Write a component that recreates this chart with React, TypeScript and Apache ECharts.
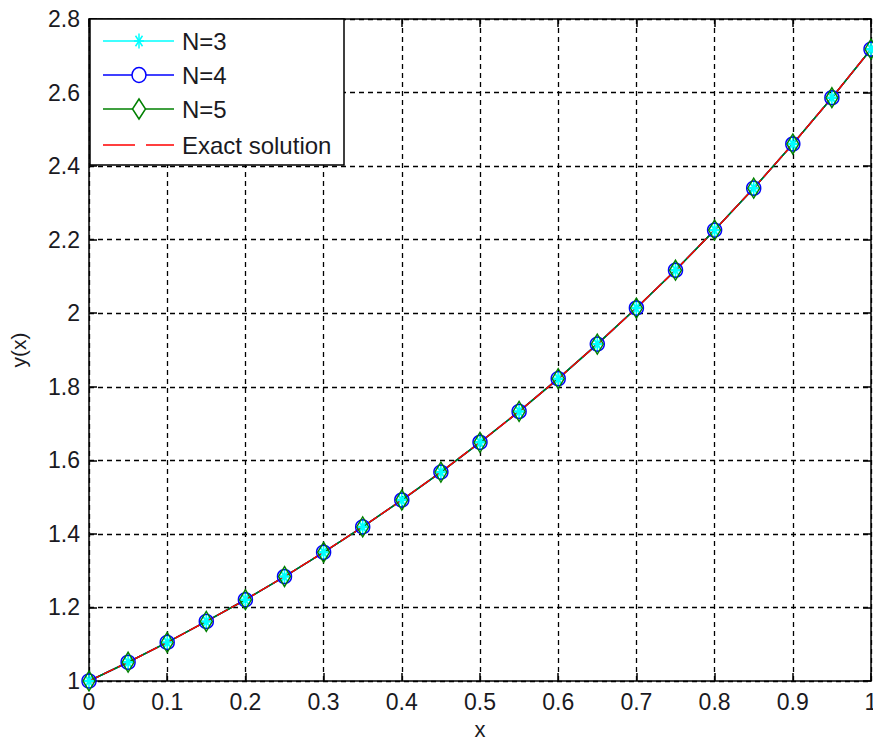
import React, { useEffect, useRef } from "react";
import * as echarts from "echarts";

const xValues = [0, 0.05, 0.1, 0.15, 0.2, 0.25, 0.3, 0.35, 0.4, 0.45, 0.5, 0.55, 0.6, 0.65, 0.7, 0.75, 0.8, 0.85, 0.9, 0.95, 1];
const n3Values = [1.0, 1.051, 1.105, 1.162, 1.221, 1.284, 1.35, 1.419, 1.492, 1.568, 1.649, 1.733, 1.822, 1.916, 2.014, 2.117, 2.226, 2.34, 2.46, 2.586, 2.718];
const n4Values = [1.0, 1.051, 1.105, 1.162, 1.221, 1.284, 1.35, 1.419, 1.492, 1.568, 1.649, 1.733, 1.822, 1.916, 2.014, 2.117, 2.226, 2.34, 2.46, 2.586, 2.718];
const n5Values = [1.0, 1.051, 1.105, 1.162, 1.221, 1.284, 1.35, 1.419, 1.492, 1.568, 1.649, 1.733, 1.822, 1.916, 2.014, 2.117, 2.226, 2.34, 2.46, 2.586, 2.718];
const exactValues = [1.0, 1.051, 1.105, 1.162, 1.221, 1.284, 1.35, 1.419, 1.492, 1.568, 1.649, 1.733, 1.822, 1.916, 2.014, 2.117, 2.226, 2.34, 2.46, 2.586, 2.718];
const seriesNames = ["N=3", "N=4", "N=5", "Exact solution"];
const seriesColors = ["#00ffff", "#0000ff", "#008000", "#ff0000"];

const FONT = "'Liberation Sans', Arial, sans-serif";
const TXT = "#1a1a22";
const ASTERISK = "path://M5,0L5,10M0,5L10,5M1.5,1.5L8.5,8.5M1.5,8.5L8.5,1.5";

const pairs = (ys: number[]) => xValues.map((x, i) => [x, ys[i]]);

function legendGraphics() {
  const boxL = 90, boxT = 19, boxW = 254, boxH = 146;
  const rows = [41, 75, 109, 145];
  const lx1 = 103, lx2 = 174, mx = 139, tx = 182;
  const els: any[] = [
    { type: "rect", shape: { x: boxL, y: boxT, width: boxW, height: boxH }, style: { fill: "#fff", stroke: "#000", lineWidth: 1.5 }, z: 100 },
  ];
  rows.forEach((y, i) => {
    const c = seriesColors[i];
    els.push({
      type: "line", shape: { x1: lx1, y1: y, x2: lx2, y2: y },
      style: { stroke: c, lineWidth: 1.5, lineDash: i === 3 ? [32, 11] : null }, z: 101,
    });
    if (i === 0) {
      const hw = 5, hh = 7.5;
      [[0, -hh, 0, hh], [-hw, 0, hw, 0], [-hw * 0.7, -hh * 0.7, hw * 0.7, hh * 0.7], [-hw * 0.7, hh * 0.7, hw * 0.7, -hh * 0.7]].forEach((s) => {
        els.push({ type: "line", shape: { x1: mx + s[0], y1: y + s[1], x2: mx + s[2], y2: y + s[3] }, style: { stroke: c, lineWidth: 1.5 }, z: 102 });
      });
    } else if (i === 1) {
      els.push({ type: "ellipse", shape: { cx: mx, cy: y, rx: 7, ry: 7.5 }, style: { fill: "#fff", stroke: c, lineWidth: 1.5 }, z: 102 });
    } else if (i === 2) {
      els.push({
        type: "polygon", shape: { points: [[mx, y - 10], [mx + 6.5, y], [mx, y + 10], [mx - 6.5, y]] },
        style: { fill: "#fff", stroke: c, lineWidth: 1.5 }, z: 102,
      });
    }
    els.push({
      type: "text", x: tx, y, style: { text: seriesNames[i], fill: TXT, font: `24px ${FONT}`, textVerticalAlign: "middle", verticalAlign: "middle" }, z: 103,
    });
  });
  return els;
}

export default function App() {
  const ref = useRef<HTMLDivElement>(null);
  useEffect(() => {
    if (!ref.current) return;
    document.body.style.margin = "0";
    document.body.style.overflow = "hidden";
    const chart = echarts.init(ref.current, null, { renderer: "svg" });
    const axisLine = { show: true, onZero: false, lineStyle: { color: "#000", width: 1.5 } };
    const tick = { show: true, inside: true, length: 8, lineStyle: { color: "#000", width: 1.5 } };
    const split = { show: true, lineStyle: { color: "#000", width: 1.3, type: [5, 4] } };
    const label = { color: TXT, fontSize: 23, fontFamily: FONT };
    chart.setOption({
      animation: false,
      backgroundColor: "#fff",
      grid: { left: 89, right: 2, top: 19, bottom: 61, outerBoundsMode: "none", containLabel: false },
      xAxis: [
        {
          type: "value", min: 0, max: 1, interval: 0.1, position: "bottom",
          axisLine, axisTick: tick, splitLine: split,
          axisLabel: { ...label, margin: 9 },
          name: "x", nameLocation: "middle", nameGap: 37,
          nameTextStyle: { color: TXT, fontSize: 22, fontFamily: FONT },
        },
        {
          type: "value", min: 0, max: 1, interval: 0.1, position: "top",
          axisLine, axisTick: tick, splitLine: { show: false }, axisLabel: { show: false },
        },
      ],
      yAxis: [
        {
          type: "value", min: 1, max: 2.8, interval: 0.2, position: "left",
          axisLine, axisTick: tick, splitLine: split,
          axisLabel: { ...label, margin: 9, formatter: (v: number) => String(Math.round(v * 10) / 10) },
          name: "y(x)", nameLocation: "middle", nameGap: 60,
          nameTextStyle: { color: TXT, fontSize: 21, fontFamily: FONT },
        },
        {
          type: "value", min: 1, max: 2.8, interval: 0.2, position: "right",
          axisLine, axisTick: tick, splitLine: { show: false }, axisLabel: { show: false },
        },
      ],
      graphic: legendGraphics(),
      series: [
        {
          name: seriesNames[0], type: "line", data: pairs(n3Values),
          symbol: ASTERISK, symbolSize: [10, 15], symbolKeepAspect: false, showAllSymbol: true,
          itemStyle: { color: seriesColors[0], borderColor: seriesColors[0], borderWidth: 2 },
          lineStyle: { color: seriesColors[0], width: 1.5 },
        },
        {
          name: seriesNames[1], type: "line", data: pairs(n4Values),
          symbol: "circle", symbolSize: 14, showAllSymbol: true,
          itemStyle: { color: "transparent", borderColor: seriesColors[1], borderWidth: 1.5 },
          lineStyle: { color: seriesColors[1], width: 1.5 },
        },
        {
          name: seriesNames[2], type: "line", data: pairs(n5Values),
          symbol: "diamond", symbolSize: [12, 20], showAllSymbol: true,
          itemStyle: { color: "transparent", borderColor: seriesColors[2], borderWidth: 1.5 },
          lineStyle: { color: seriesColors[2], width: 1.5 },
        },
        {
          name: seriesNames[3], type: "line", data: pairs(exactValues),
          symbol: "none",
          itemStyle: { color: seriesColors[3] },
          lineStyle: { color: seriesColors[3], width: 1.5, type: [12, 4] },
        },
      ],
    });
    return () => chart.dispose();
  }, []);
  return <div ref={ref} style={{ position: "fixed", left: 0, top: 0, width: 873, height: 742 }} />;
}
